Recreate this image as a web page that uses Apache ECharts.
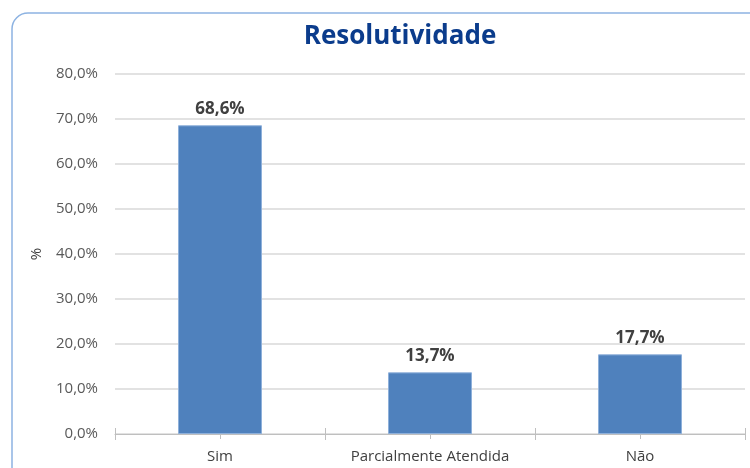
<!DOCTYPE html>
<html>
<head>
<meta charset="utf-8">
<script src="https://cdn.jsdelivr.net/npm/echarts@6/dist/echarts.min.js"></script>
<style>
  html, body { margin: 0; padding: 0; background: #fff; }
  #chart { width: 750px; height: 468px; }
</style>
</head>
<body>
<div id="chart"></div>
<script>
const categories = ['Sim', 'Parcialmente Atendida', 'Não'];
const values = [68.6, 13.7, 17.7];
const yTicks = [0, 10, 20, 30, 40, 50, 60, 70, 80];

const fmt = (v) => v.toFixed(1).replace('.', ',') + '%';
const font = '"Open Sans", "Noto Sans", sans-serif';

const chart = echarts.init(document.getElementById('chart'));

// three stacked category axes: crossing boundary ticks + center ticks
const baseX = {
  type: 'category',
  data: categories,
  position: 'bottom',
  gridIndex: 0,
  splitLine: { show: false },
};

const option = {
  animation: false,
  backgroundColor: '#fff',
  title: {
    text: 'Resolutividade',
    left: 395,
    top: 19,
    textAlign: 'center',
    textStyle: { color: '#0b3c8c', fontSize: 26, fontWeight: 'bold', fontFamily: font },
  },
  graphic: [
    {
      type: 'rect',
      shape: { x: 12, y: 13, width: 760, height: 470, r: 16 },
      style: { fill: 'none', stroke: '#8db3e2', lineWidth: 1.5 },
      silent: true,
      z: -1,
    },
  ],
  grid: { left: 115, right: 5, top: 74, bottom: 34 },
  xAxis: [
    Object.assign({}, baseX, {
      axisLine: { show: true, lineStyle: { color: '#bfbfbf', width: 1 } },
      axisTick: { show: true, inside: true, length: 6, interval: 0, lineStyle: { color: '#bfbfbf' } },
      axisLabel: { color: '#404040', fontSize: 15, fontFamily: font, margin: 15, interval: 0 },
    }),
    Object.assign({}, baseX, {
      axisLine: { show: false },
      axisTick: { show: true, length: 6, interval: 0, lineStyle: { color: '#bfbfbf' } },
      axisLabel: { show: false },
    }),
    Object.assign({}, baseX, {
      axisLine: { show: false },
      axisTick: { show: true, length: 5, interval: 0, alignWithLabel: true, lineStyle: { color: '#bfbfbf' } },
      axisLabel: { show: false },
    }),
  ],
  yAxis: {
    type: 'value',
    min: yTicks[0],
    max: yTicks[yTicks.length - 1],
    interval: 10,
    name: '%',
    nameLocation: 'middle',
    nameRotate: 90,
    nameGap: 71,
    nameTextStyle: { color: '#404040', fontSize: 15, fontFamily: font },
    axisLine: { show: false },
    axisTick: { show: false },
    axisLabel: { color: '#595959', fontSize: 15, fontFamily: font, margin: 17, formatter: fmt },
    splitLine: { lineStyle: { color: '#d9d9d9', width: 1.5 } },
  },
  series: [
    {
      type: 'bar',
      xAxisIndex: 0,
      data: values,
      barWidth: '40%',
      itemStyle: { color: '#4f81bd', borderColor: '#8eb0da', borderWidth: 1 },
      label: {
        show: true,
        position: 'top',
        distance: 8,
        color: '#404040',
        fontSize: 17,
        fontWeight: 'bold',
        fontFamily: font,
        formatter: (p) => fmt(p.value),
      },
    },
  ],
};

chart.setOption(option);
</script>
</body>
</html>
